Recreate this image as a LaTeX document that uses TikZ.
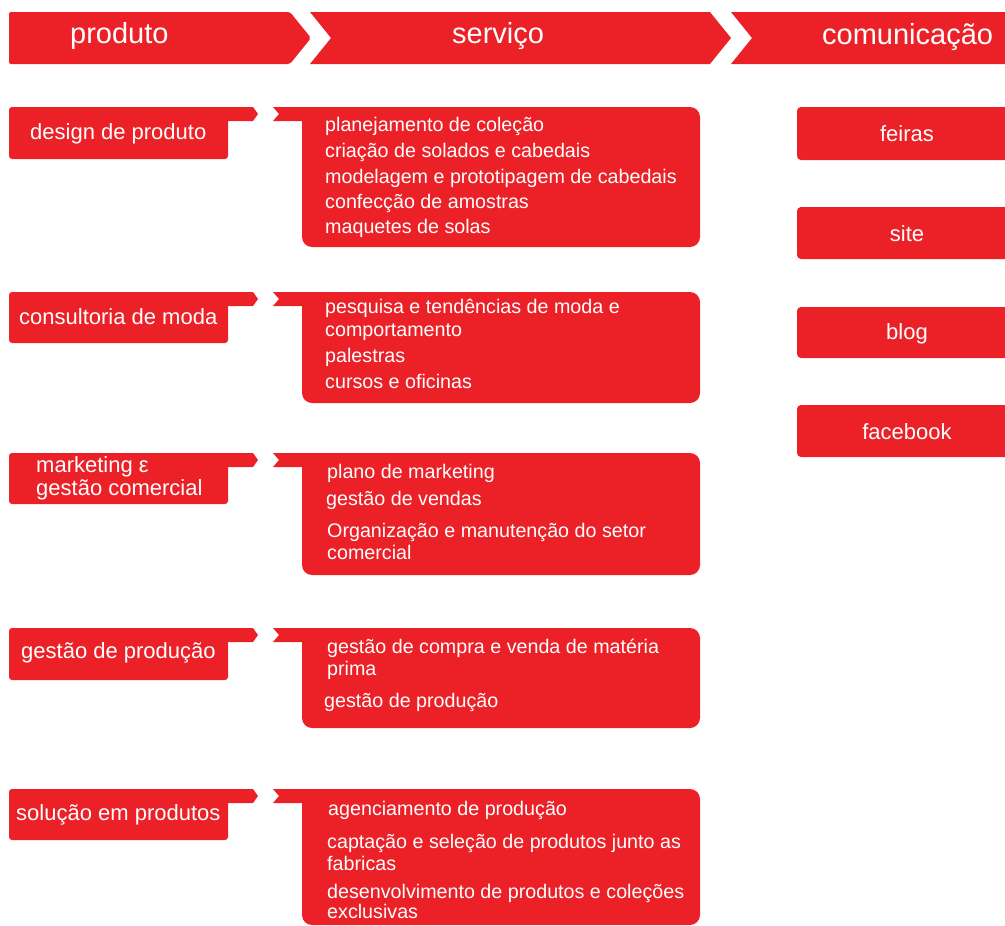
\documentclass[tikz,border=0pt]{standalone}
\usepackage{fontspec}
\setmainfont{Liberation Sans}
\usepackage{tikz}
\definecolor{boxred}{RGB}{236,32,39}

\begin{document}
\begin{tikzpicture}[x=1pt, y=-1pt,
    head/.style={anchor=base west, inner sep=0pt, text=white, font=\fontsize{29}{33}\selectfont},
    area/.style={anchor=base west, inner sep=0pt, text=white, font=\fontsize{22}{25}\selectfont},
    item/.style={anchor=base west, inner sep=0pt, text=white, font=\fontsize{19.7}{22}\selectfont},
    media/.style={anchor=base, inner sep=0pt, text=white, font=\fontsize{22}{25}\selectfont}]
    \useasboundingbox (0,0) rectangle (1005,926);

    % header arrows
    \fill[boxred, rounded corners=2] (9,12) -- (290,12) -- (311,38) -- (290,64) -- (9,64) -- cycle;
    \fill[boxred] (310,12) -- (710,12) -- (731,38) -- (710,64) -- (310,64) -- (331,38) -- cycle;
    \fill[boxred] (731,12) -- (1005,12) -- (1005,64) -- (731,64) -- (752,38) -- cycle;
    \node[head] (produto) at (70,43) {produto};
    \node[head] (servico) at (452,43) {serviço};
    \node[head] (comunicacao) at (822,45) {comunicação};

    % row 1
    \fill[boxred, rounded corners=3] (9,107) rectangle (228,159);
    \fill[boxred] (200,107) -- (253,107) -- (258,114) -- (253,121) -- (200,121) -- cycle;
    \fill[boxred, rounded corners=10] (302,107) rectangle (700,247);
    \fill[boxred] (273,107) -- (320,107) -- (320,121) -- (273,121) -- (279,114) -- cycle;
    \node[area] (design) at (30,139) {design de produto};
    \node[item] (design1) at (325,131) {planejamento de coleção};
    \node[item] (design2) at (325,157) {criação de solados e cabedais};
    \node[item] (design3) at (325,183) {modelagem e prototipagem de cabedais};
    \node[item] (design4) at (325,208) {confecção de amostras};
    \node[item] (design5) at (325,233) {maquetes de solas};

    % row 2
    \fill[boxred, rounded corners=3] (9,292) rectangle (228,343);
    \fill[boxred] (200,292) -- (253,292) -- (258,299) -- (253,306) -- (200,306) -- cycle;
    \fill[boxred, rounded corners=10] (302,292) rectangle (700,403);
    \fill[boxred] (273,292) -- (320,292) -- (320,306) -- (273,306) -- (279,299) -- cycle;
    \node[area] (moda) at (19,324) {consultoria de moda};
    \node[item] (moda1) at (325,313) {pesquisa e tendências de moda e};
    \node[item] (moda2) at (325,336) {comportamento};
    \node[item] (moda3) at (325,362) {palestras};
    \node[item] (moda4) at (325,388) {cursos e oficinas};

    % row 3
    \fill[boxred, rounded corners=3] (9,453) rectangle (228,504);
    \fill[boxred] (200,453) -- (253,453) -- (258,460) -- (253,467) -- (200,467) -- cycle;
    \fill[boxred, rounded corners=10] (302,453) rectangle (700,575);
    \fill[boxred] (273,453) -- (320,453) -- (320,467) -- (273,467) -- (279,460) -- cycle;
    \node[area] (mkt) at (36,472) {marketing ε};
    \node[area] (mktb) at (36,495) {gestão comercial};
    \node[item] (mkt1) at (327,478) {plano de marketing};
    \node[item] (mkt2) at (326,505) {gestão de vendas};
    \node[item] (mkt3) at (327,537) {Organização e manutenção do setor};
    \node[item] (mkt4) at (327,559) {comercial};

    % row 4
    \fill[boxred, rounded corners=3] (9,628) rectangle (228,680);
    \fill[boxred] (200,628) -- (253,628) -- (258,635) -- (253,642) -- (200,642) -- cycle;
    \fill[boxred, rounded corners=10] (302,628) rectangle (700,728);
    \fill[boxred] (273,628) -- (320,628) -- (320,642) -- (273,642) -- (279,635) -- cycle;
    \node[area] (prod) at (21,658) {gestão de produção};
    \node[item] (prod1) at (327,653) {gestão de compra e venda de matéria};
    \node[item] (prod2) at (327,675) {prima};
    \node[item] (prod3) at (324,707) {gestão de produção};

    % row 5
    \fill[boxred, rounded corners=3] (9,789) rectangle (228,840);
    \fill[boxred] (200,789) -- (253,789) -- (258,796) -- (253,803) -- (200,803) -- cycle;
    \fill[boxred, rounded corners=10] (302,789) rectangle (700,925);
    \fill[boxred] (273,789) -- (320,789) -- (320,803) -- (273,803) -- (279,796) -- cycle;
    \node[area] (sol) at (16,820) {solução em produtos};
    \node[item] (sol1) at (328,815) {agenciamento de produção};
    \node[item] (sol2) at (327,848) {captação e seleção de produtos junto as};
    \node[item] (sol3) at (327,870) {fabricas};
    \node[item] (sol4) at (327,898) {desenvolvimento de produtos e coleções};
    \node[item] (sol5) at (327,918) {exclusivas};

    % comunicacao column
    \fill[boxred, rounded corners=4] (797,107) rectangle (1015,160);
    \fill[boxred, rounded corners=4] (797,207) rectangle (1015,259);
    \fill[boxred, rounded corners=4] (797,307) rectangle (1015,358);
    \fill[boxred, rounded corners=4] (797,405) rectangle (1015,457);
    \node[media] (feiras) at (907,141) {feiras};
    \node[media] (site) at (907,241) {site};
    \node[media] (blog) at (907,339) {blog};
    \node[media] (facebook) at (907,439) {facebook};
\end{tikzpicture}
\end{document}
